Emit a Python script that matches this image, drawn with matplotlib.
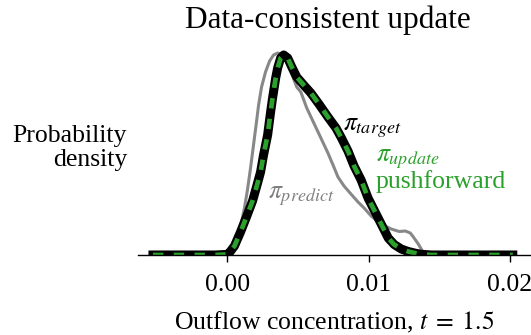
import matplotlib
matplotlib.use("Agg")
import matplotlib.pyplot as plt
from matplotlib.ticker import FormatStrFormatter

plt.rcParams['font.family'] = ['Liberation Serif', 'DejaVu Serif']
plt.rcParams['mathtext.fontset'] = 'stix'

# Outflow concentration grid (same for all curves)
conc = [-0.00527, -0.00085, -0.00014, 0.00007, 0.00050, 0.00093, 0.00135,
        0.00178, 0.00206, 0.00235, 0.00256, 0.00285, 0.00306, 0.00320,
        0.00342, 0.00356, 0.00377, 0.00399, 0.00427, 0.00456, 0.00491,
        0.00534, 0.00591, 0.00648, 0.00712, 0.00769, 0.00804, 0.00854,
        0.00897, 0.00947, 0.00996, 0.01039, 0.01089, 0.01139, 0.01181,
        0.01231, 0.01281, 0.01331, 0.01374, 0.01445, 0.02021]
target_density = [0.0, 0.0, 0.4, 0.8, 7.2, 18.4, 30.4, 43.2, 54.4, 66.4,
                  80.0, 96.0, 114.4, 125.6, 141.6, 149.6, 157.6, 160.0,
                  157.6, 150.4, 142.4, 136.8, 129.6, 120.8, 110.4, 101.6,
                  94.4, 83.2, 71.2, 60.0, 45.6, 36.0, 24.8, 13.6, 8.4,
                  4.8, 2.8, 1.44, 0.56, 0.0, 0.0]
# pushforward of the updated density reproduces the target
update_density = list(target_density)

# predicted (prior pushforward) density
pred_conc = [-0.00527, -0.00085, -0.00007, 0.00021, 0.00050, 0.00078,
             0.00100, 0.00121, 0.00142, 0.00164, 0.00185, 0.00206, 0.00221,
             0.00242, 0.00270, 0.00299, 0.00327, 0.00356, 0.00384, 0.00413,
             0.00448, 0.00491, 0.00520, 0.00562, 0.00612, 0.00662, 0.00712,
             0.00754, 0.00783, 0.00826, 0.00875, 0.00925, 0.00968, 0.01018,
             0.01089, 0.01160, 0.01217, 0.01260, 0.01295, 0.01317, 0.01352,
             0.01381, 0.01409, 0.01445, 0.02021]
predict_density = [0.0, 0.0, 0.4, 4.0, 10.4, 18.4, 26.4, 37.6, 52.0, 69.6,
                   88.0, 106.4, 120.0, 134.4, 146.4, 155.2, 160.0, 161.6,
                   160.8, 156.0, 147.2, 134.4, 130.4, 117.6, 105.6, 93.6,
                   81.6, 70.4, 62.4, 55.2, 48.8, 42.4, 37.6, 31.2, 24.8,
                   20.8, 18.8, 19.2, 17.6, 14.4, 8.8, 3.2, 1.2, 0.0, 0.0]

xticks = [0.00, 0.01, 0.02]

fig = plt.figure(figsize=(5.31, 3.35), dpi=100)
ax = fig.add_axes([138 / 531, 80 / 335, 393 / 531, 210 / 335])

ax.plot(pred_conc, predict_density, color='#888888', lw=2.2,
        solid_joinstyle='round')
ax.plot(conc, target_density, color='black', lw=6.5, solid_joinstyle='round')
ax.plot(conc, update_density, color='#2ca02c', lw=3.4, dashes=(2.2, 2.2))

ax.text(0.00816, 100, r'$\pi_{target}$', fontsize=18.5, color='black')
ax.text(0.01053, 74.6, r'$\pi_{update}$', fontsize=18.5, color='#2ca02c')
ax.text(0.01053, 53.6, 'pushforward', fontsize=18.5, color='#2ca02c')
ax.text(0.0029, 45.6, r'$\pi_{predict}$', fontsize=18.5, color='#808080')

ax.set_xlim(-0.00633, 0.0215)
ax.set_ylim(0, 168)
ax.set_xticks(xticks)
ax.xaxis.set_major_formatter(FormatStrFormatter('%.2f'))
ax.tick_params(axis='x', direction='out', length=5, width=1, labelsize=18.5, pad=9)
ax.set_yticks([])
for side in ['left', 'top', 'right']:
    ax.spines[side].set_visible(False)
ax.spines['bottom'].set_linewidth(1)

ax.set_title('Data-consistent update', fontsize=22.5, x=0.482, pad=12)
ax.set_xlabel(r'Outflow concentration, $t\;=\;1.5$', fontsize=18.5, labelpad=10)
fig.text(127 / 531, (335 - 148) / 335, 'Probability\ndensity',
         ha='right', va='center', multialignment='right', fontsize=18.5,
         linespacing=1.12)

fig.savefig('out.png', dpi=100)
